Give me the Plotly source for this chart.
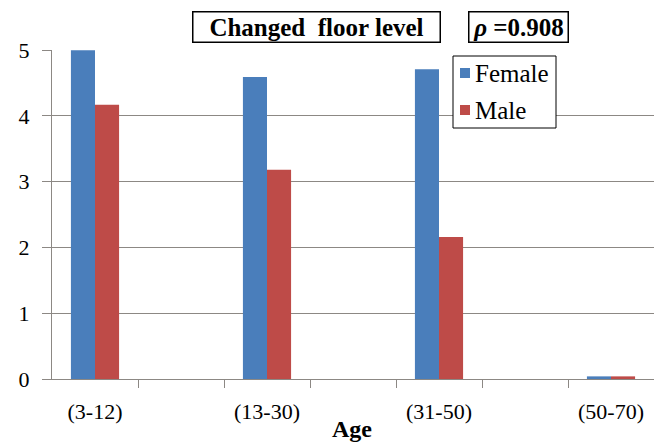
import plotly.graph_objects as go

categories = ["(3-12)", "(13-30)", "(31-50)", "(50-70)"]
female = [5.0, 4.59, 4.71, 0.04]
male = [4.17, 3.18, 2.16, 0.04]
y_ticks = [0, 1, 2, 3, 4, 5]
series_names = ["Female", "Male"]
title_text = "Changed  floor level"
rho_text = "<i>ρ</i> =0.908"
x_title = "Age"

# category slots: labelled categories sit on every other slot (Excel-style skipped labels)
xpos = [2 * i for i in range(len(categories))]
n_slots = 2 * len(categories) - 1

FONT = "'Liberation Serif', 'Times New Roman', serif"
GRID = "#8c8884"
BLUE = "#4A7EBB"
RED = "#BE4B48"
COLORS = [BLUE, RED]
BW = 0.28

# plot-area geometry (pixels) used to map paper coordinates
L, R, T, B, W, H = 52, 0, 50, 66, 654, 445
PW, PH = W - L - R, H - T - B


def px(xp):
    return (xp - L) / PW


def py(yp):
    return (H - B - yp) / PH


fig = go.Figure()
fig.add_trace(go.Bar(x=xpos, y=female, name=series_names[0], width=BW, offset=-BW,
                     marker=dict(color=BLUE, line=dict(width=0))))
fig.add_trace(go.Bar(x=xpos, y=male, name=series_names[1], width=BW, offset=0,
                     marker=dict(color=RED, line=dict(width=0))))

annotations = [
    dict(text="<b>" + title_text + "</b>", xref="paper", yref="paper",
         x=px(316), y=py(27.5), xanchor="center", yanchor="middle",
         showarrow=False, font=dict(family=FONT, size=25, color="black"),
         bordercolor="black", borderwidth=1.5, borderpad=0, width=246, height=29,
         bgcolor="white"),
    dict(text="<b>" + rho_text + "</b>", xref="paper", yref="paper",
         x=px(518), y=py(27.5), xanchor="center", yanchor="middle",
         showarrow=False, font=dict(family=FONT, size=25, color="black"),
         bordercolor="black", borderwidth=1.5, borderpad=0, width=98, height=29,
         bgcolor="white"),
    dict(text="<b>" + x_title + "</b>", xref="paper", yref="paper",
         x=px(352), y=py(429), xanchor="center", yanchor="middle",
         showarrow=False, font=dict(family=FONT, size=24, color="black")),
]

# legend box drawn manually (compact Excel-style legend)
shapes = [dict(type="rect", xref="paper", yref="paper", x0=px(453), x1=px(556),
               y0=py(128), y1=py(56), line=dict(color="black", width=1), fillcolor="white",
               layer="above")]
for i, (name, col) in enumerate(zip(series_names, COLORS)):
    cy = 73 + 37 * i
    shapes.append(dict(type="rect", xref="paper", yref="paper", x0=px(460), x1=px(470),
                       y0=py(cy + 5), y1=py(cy - 5), line=dict(width=0), fillcolor=col,
                       layer="above"))
    annotations.append(dict(text=name, xref="paper", yref="paper", x=px(473), y=py(cy),
                            xanchor="left", yanchor="middle", showarrow=False,
                            font=dict(family=FONT, size=25, color="black")))

fig.update_layout(
    width=W, height=H,
    margin=dict(l=L, r=R, t=T, b=B),
    paper_bgcolor="white", plot_bgcolor="white",
    font=dict(family=FONT, color="black", size=22),
    barmode="overlay",
    showlegend=False,
    xaxis=dict(range=[-0.5, n_slots - 0.5], tickmode="array", tickvals=xpos, ticktext=categories,
               ticks="", showgrid=False, showline=True, linecolor=GRID, linewidth=1,
               zeroline=False, tickfont=dict(family=FONT, size=22), ticklabelstandoff=13,
               minor=dict(tickvals=[i + 0.5 for i in range(n_slots - 1)], ticks="outside",
                          ticklen=8, tickcolor=GRID, tickwidth=1, showgrid=False)),
    yaxis=dict(range=[0, 5.002], tickmode="array", tickvals=y_ticks, ticks="outside",
               ticklen=9, tickcolor=GRID, showgrid=True, gridcolor=GRID, gridwidth=1,
               showline=True, linecolor=GRID, linewidth=1, zeroline=False,
               tickfont=dict(family=FONT, size=22), ticklabelstandoff=8),
    annotations=annotations,
    shapes=shapes,
)

fig.write_html("out.html", config={"displayModeBar": False},
               post_script="document.body.style.margin='0';")
